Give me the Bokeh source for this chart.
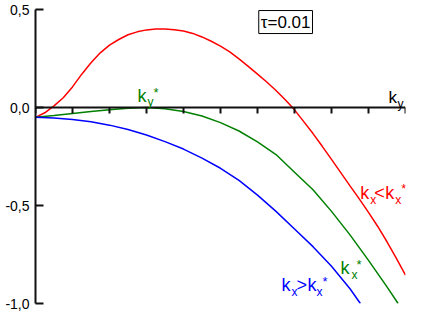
import math
from bokeh.plotting import figure
from bokeh.models import Range1d, FixedTicker, Label
from bokeh.embed import file_html
from bokeh.resources import INLINE

# ---- data ----
x_ticks = [0, 1, 2, 3, 4, 5, 6, 7, 8, 9, 10]
y_ticks = [-1.0, -0.5, 0.0, 0.5]
y_tick_labels = ["-1,0", "-0,5", "0,0", "0,5"]

red_x = [0, 0.25, 0.5, 0.75, 1.0, 1.25, 1.5, 1.75, 2.0, 2.25, 2.5, 2.75, 3.0, 3.25, 3.5, 3.75,
         4.0, 4.25, 4.5, 4.75, 5.0, 5.25, 5.5, 5.75, 6.0, 6.25, 6.5, 6.75, 7.0, 7.25, 7.5, 7.75,
         8.0, 8.25, 8.5, 8.75, 9.0, 9.25, 9.5, 9.75, 10.0]
red_y = [-0.05, -0.027, 0.008, 0.05, 0.105, 0.17, 0.228, 0.279, 0.318, 0.347, 0.371, 0.386, 0.396, 0.400, 0.401, 0.397,
         0.39, 0.378, 0.36, 0.338, 0.313, 0.284, 0.248, 0.21, 0.17, 0.13, 0.087, 0.04, -0.012, -0.072, -0.133, -0.198,
         -0.265, -0.332, -0.4, -0.466, -0.535, -0.607, -0.685, -0.768, -0.855]

green_x = [0, 0.5, 1.0, 1.5, 2.0, 2.5, 3.0, 3.5, 4.0, 4.5, 5.0, 5.5, 6.0, 6.5, 7.0, 7.5, 8.0, 8.5, 9.0, 9.5, 9.8]
green_y = [-0.05, -0.041, -0.031, -0.021, -0.012, -0.004, 0.0, -0.006, -0.02, -0.043, -0.077, -0.12, -0.175, -0.24,
           -0.33, -0.42, -0.53, -0.65, -0.78, -0.915, -1.0]

blue_x = [0, 0.5, 1.0, 1.5, 2.0, 2.5, 3.0, 3.5, 4.0, 4.5, 5.0, 5.5, 6.0, 6.5, 7.0, 7.5, 8.0, 8.5, 8.78]
blue_y = [-0.05, -0.053, -0.061, -0.073, -0.09, -0.112, -0.14, -0.174, -0.212, -0.258, -0.31, -0.372, -0.447,
          -0.53, -0.62, -0.71, -0.81, -0.925, -1.0]

FONT = "Liberation Sans"

p = figure(width=436, height=327, output_backend="svg", toolbar_location=None,
           x_range=Range1d(0, 10), y_range=Range1d(-1.0, 0.5),
           min_border_left=35, min_border_right=31, min_border_top=9, min_border_bottom=24)
p.outline_line_color = None
p.xgrid.visible = False
p.ygrid.visible = False
p.background_fill_color = "white"
p.border_fill_color = "white"

# x axis drawn through y = 0
xa = p.xaxis[0]
xa.fixed_location = 0
xa.ticker = FixedTicker(ticks=x_ticks)
xa.major_label_overrides = {t: "" for t in x_ticks}
xa.major_tick_in = 0
xa.major_tick_out = 6
xa.minor_tick_line_color = None
xa.major_label_standoff = 0
xa.axis_line_width = 2
xa.major_tick_line_width = 2
xa.axis_line_color = "#111111"
xa.major_tick_line_color = "#111111"

ya = p.yaxis[0]
ya.ticker = FixedTicker(ticks=y_ticks)
ya.major_label_overrides = {t: l for t, l in zip(y_ticks, y_tick_labels)}
ya.major_tick_in = 8
ya.major_tick_out = 0
ya.minor_tick_line_color = None
ya.axis_line_width = 2
ya.major_tick_line_width = 2
ya.axis_line_color = "#111111"
ya.major_tick_line_color = "#111111"
ya.major_label_text_font = FONT
ya.major_label_text_font_size = "14px"
ya.major_label_text_color = "black"
ya.major_label_standoff = 6

p.line(red_x, red_y, line_color="#ff0000", line_width=1.5)
p.line(green_x, green_y, line_color="#008000", line_width=1.5)
p.line(blue_x, blue_y, line_color="#0000ff", line_width=1.5)


def rich(x, y, parts, color):
    for text, dx, dy, size in parts:
        p.add_layout(Label(x=x, y=y, x_offset=dx, y_offset=dy, text=text,
                           text_font=FONT, text_font_size=f"{size}px",
                           text_color=color, text_baseline="alphabetic",
                           text_align="left"))


rich(2.76, 0.061, [("k", 0, 0, 18), ("y", 10, -6, 12), ("*", 16, 3, 13)], "#008000")
rich(9.54, 0.051, [("k", 0, 0, 17), ("y", 9, -6, 12)], "black")
rich(8.78, -0.434, [("k", 0, 0, 18), ("x", 10, -7, 12), ("<", 14, 0, 18),
                    ("k", 25, 0, 18), ("x", 35, -7, 12), ("*", 41, 4, 13)], "#ff0000")
rich(8.24, -0.819, [("k", 0, 0, 18), ("x", 11, -7, 12), ("*", 16, 4, 13)], "#008000")
rich(6.65, -0.908, [("k", 0, 0, 18), ("x", 10, -7, 12), (">", 15, 0, 18),
                    ("k", 26, 0, 18), ("x", 35, -7, 12), ("*", 41, 4, 13)], "#0000ff")

p.add_layout(Label(x=6.76, y=0.436, text="τ=0.01", text_font=FONT, text_font_size="17px",
                   text_color="black", text_align="center", text_baseline="middle",
                   border_line_color="black", border_line_width=1, padding=2,
                   background_fill_color="white"))

p.add_layout(Label(x=-0.62, y=-0.18, text="Re λ", text_font=FONT, text_font_size="17px",
                   text_color="black", text_align="center", text_baseline="middle",
                   angle=math.pi / 2))

open("out.html", "w").write(file_html(p, INLINE))
